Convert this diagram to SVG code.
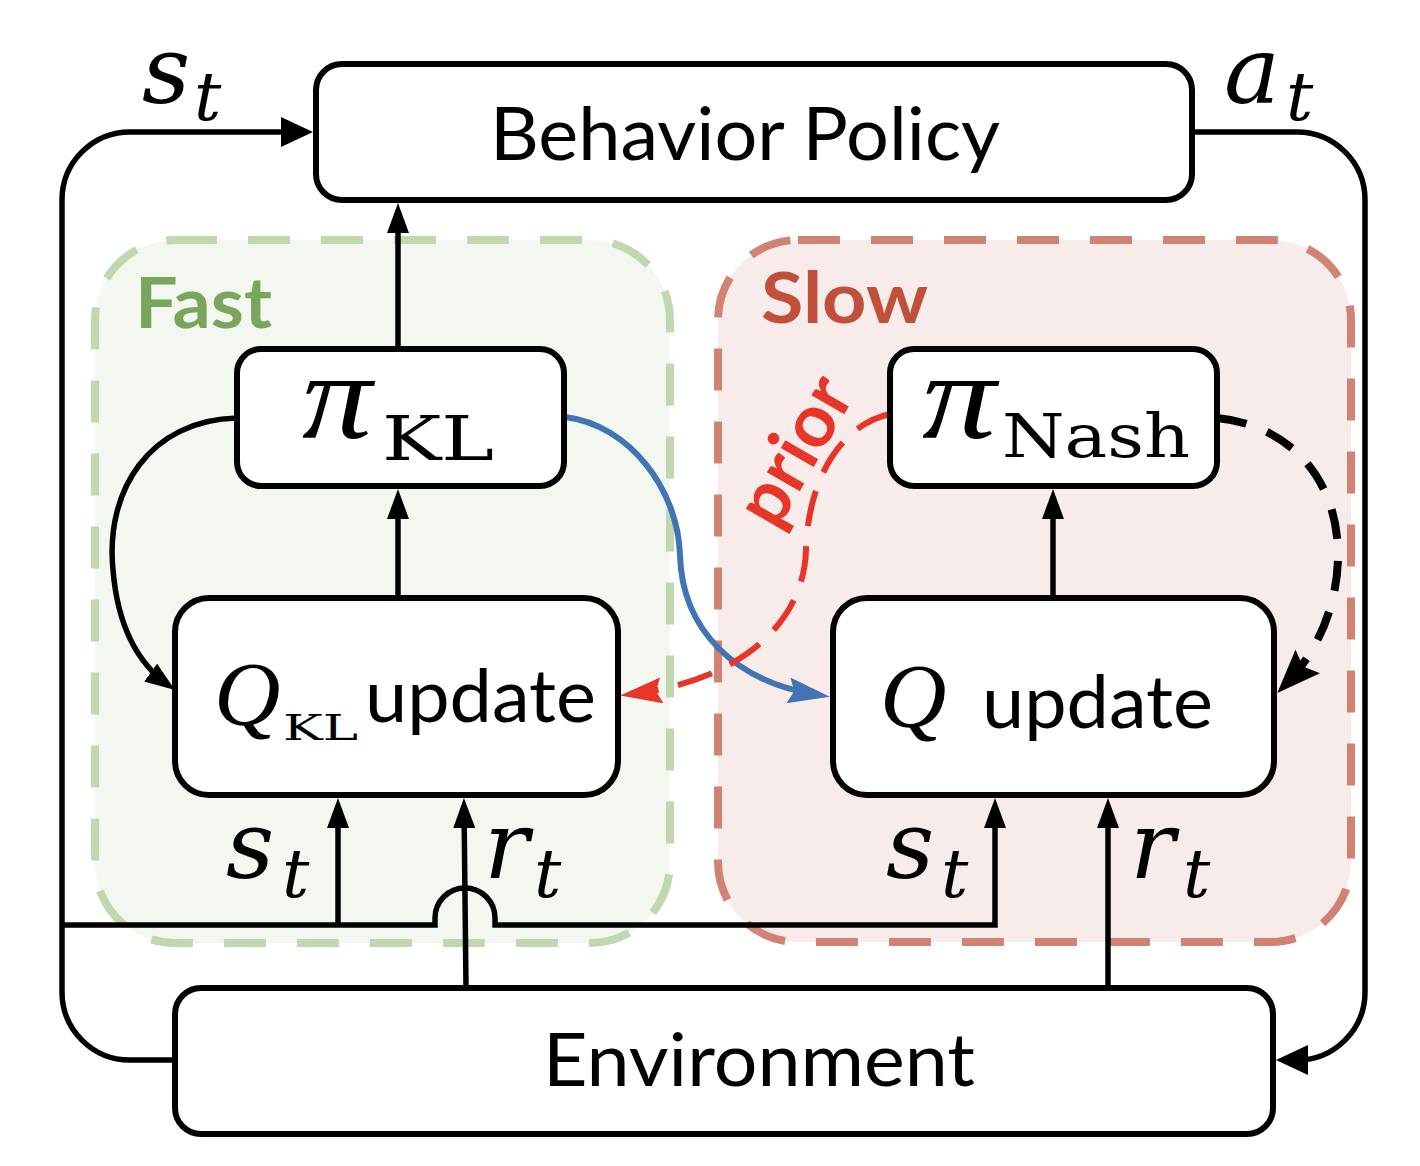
<svg xmlns="http://www.w3.org/2000/svg" width="1420" height="1166" viewBox="0 0 1420 1166">
<style>
.box{fill:#fff;stroke:#000;stroke-width:6}
.ln{fill:none;stroke:#000;stroke-width:5.5}
.sans{font-family:Lato,"Open Sans","Liberation Sans",sans-serif;fill:#000}
.mi{font-family:"DejaVu Serif","Liberation Serif",serif;font-style:italic;fill:#000}
.mq{font-family:"Liberation Serif","DejaVu Serif",serif;font-style:italic;fill:#000}
.rm{font-family:"DejaVu Serif","Liberation Serif",serif;fill:#000}
</style>
<defs>
<marker id="arr" markerUnits="userSpaceOnUse" markerWidth="30" markerHeight="22" refX="22" refY="11" orient="auto"><path d="M0,0 L30,11 L0,22 Z" fill="#000"/></marker>
<marker id="arrL" markerUnits="userSpaceOnUse" markerWidth="32" markerHeight="30" refX="22" refY="15" orient="auto"><path d="M0,0 L32,15 L0,30 Z" fill="#000"/></marker>
<marker id="arrB" markerUnits="userSpaceOnUse" markerWidth="42" markerHeight="26" refX="30" refY="13" orient="auto"><path d="M0,0 L42,13 L0,26 L6,13 Z" fill="#4274b4"/></marker>
<marker id="arrR" markerUnits="userSpaceOnUse" markerWidth="42" markerHeight="26" refX="30" refY="13" orient="auto"><path d="M0,0 L42,13 L0,26 L6,13 Z" fill="#e8352a"/></marker>
<marker id="arrD" markerUnits="userSpaceOnUse" markerWidth="44" markerHeight="34" refX="30" refY="17" orient="auto"><path d="M0,0 L44,17 L0,34 L7,17 Z" fill="#000"/></marker>
</defs>
<rect width="1420" height="1166" fill="#fff"/>
<g id="region-fast">
<rect x="95" y="240" width="575" height="703" rx="80" fill="#f2f7f0" stroke="#bfd8b0" stroke-width="8" stroke-dasharray="42,31"/>
<text x="135" y="328" class="sans" font-weight="bold" font-size="70" style="fill:#79a65a" textLength="137" lengthAdjust="spacingAndGlyphs">Fast</text>
</g>
<g id="region-slow">
<rect x="718" y="240" width="633" height="702" rx="80" fill="#f8ecea" stroke="#d08373" stroke-width="8" stroke-dasharray="42,31"/>
<text x="761" y="323" class="sans" font-weight="bold" font-size="70" style="fill:#c0503a" textLength="167" lengthAdjust="spacingAndGlyphs">Slow</text>
</g>
<g id="connectors">
<path class="ln" d="M175,1060 L130,1060 A68,68 0 0 1 62,992 L62,200 A68,68 0 0 1 130,132 L303,132" marker-end="url(#arrL)"/>
<path class="ln" d="M1192,132 L1297,132 A68,68 0 0 1 1365,200 L1365,992 A68,68 0 0 1 1297,1060 L1286,1060" marker-end="url(#arrL)"/>
<path class="ln" d="M398,349 L398,211" marker-end="url(#arr)"/>
<path class="ln" d="M398,598 L398,497" marker-end="url(#arr)"/>
<path class="ln" d="M1053,598 L1053,497" marker-end="url(#arr)"/>
<path class="ln" d="M338,925 L338,806" marker-end="url(#arr)"/>
<path class="ln" d="M466,988 L464,806" marker-end="url(#arr)"/>
<path class="ln" d="M62,925 L435,925 L435,918 A30,30 0 0 1 495,918 L495,925 L995,925 L995,806" marker-end="url(#arr)"/>
<path class="ln" d="M1108,988 L1108,806" marker-end="url(#arr)"/>
<path class="ln" d="M237,418 C150,420 105,490 113,570 C118,630 140,665 168.5,685.4" marker-end="url(#arr)"/>
<path d="M565,417 C630,425 678,490 680,555 C682,630 735,682 818,695" fill="none" stroke="#4274b4" stroke-width="6" marker-end="url(#arrB)"/>
<path d="M890,414 C840,425 808,480 806,550 C804,620 745,680 632,694" fill="none" stroke="#e8352a" stroke-width="6" stroke-dasharray="36,20" marker-end="url(#arrR)"/>
<path d="M1217,418 C1290,425 1340,480 1338,560 C1336,615 1312,657 1287,683" fill="none" stroke="#000" stroke-width="8" stroke-dasharray="30,22" marker-end="url(#arrD)"/>
<text transform="translate(797,452) rotate(-60)" text-anchor="middle" class="sans" font-weight="bold" font-size="74" style="fill:#e8352a" dy="22">prior</text>
<text class="mi" font-size="94" x="142" y="103">s</text><text class="mi" font-size="68" x="194" y="120">t</text>
<text class="mi" font-size="94" x="1224" y="103">a</text><text class="mi" font-size="68" x="1286" y="120">t</text>
<text class="mi" font-size="94" x="226" y="878">s</text><text class="mi" font-size="68" x="282" y="897">t</text>
<text class="mi" font-size="94" x="484" y="878">r</text><text class="mi" font-size="68" x="534" y="897">t</text>
<text class="mi" font-size="94" x="886" y="878">s</text><text class="mi" font-size="68" x="941" y="897">t</text>
<text class="mi" font-size="94" x="1130" y="878">r</text><text class="mi" font-size="68" x="1183" y="897">t</text>
</g>
<g id="behavior-policy">
<rect class="box" x="316" y="64" width="876" height="136" rx="26"/>
<text class="sans" x="490" y="160" font-size="74" textLength="510" lengthAdjust="spacingAndGlyphs">Behavior Policy</text>
</g>
<g id="environment">
<rect class="box" x="175" y="988" width="1098" height="146" rx="26"/>
<text class="sans" x="543" y="1086" font-size="74" textLength="432" lengthAdjust="spacingAndGlyphs">Environment</text>
</g>
<g id="pi-kl">
<rect class="box" x="237" y="349" width="327" height="137" rx="24"/>
<text class="mq" x="302" y="438" font-size="122" textLength="70" lengthAdjust="spacingAndGlyphs">π</text>
<text class="rm" x="382" y="460" font-size="62" textLength="112" lengthAdjust="spacingAndGlyphs">KL</text>
</g>
<g id="pi-nash">
<rect class="box" x="890" y="349" width="327" height="137" rx="24"/>
<text class="mq" x="922" y="438" font-size="122" textLength="74" lengthAdjust="spacingAndGlyphs">π</text>
<text class="rm" x="1002" y="457" font-size="60" textLength="188" lengthAdjust="spacingAndGlyphs">Nash</text>
</g>
<g id="q-kl-update">
<rect class="box" x="175" y="598" width="443" height="197" rx="34"/>
<text class="mq" x="214" y="725" font-size="92">Q</text>
<text class="rm" x="283" y="740" font-size="35" textLength="75" lengthAdjust="spacingAndGlyphs">KL</text>
<text class="sans" x="365" y="722" font-size="74" textLength="231" lengthAdjust="spacingAndGlyphs">update</text>
</g>
<g id="q-update">
<rect class="box" x="833" y="598" width="441" height="197" rx="34"/>
<text class="mq" x="880" y="727" font-size="92">Q</text>
<text class="sans" x="982" y="728" font-size="74" textLength="231" lengthAdjust="spacingAndGlyphs">update</text>
</g>
</svg>
